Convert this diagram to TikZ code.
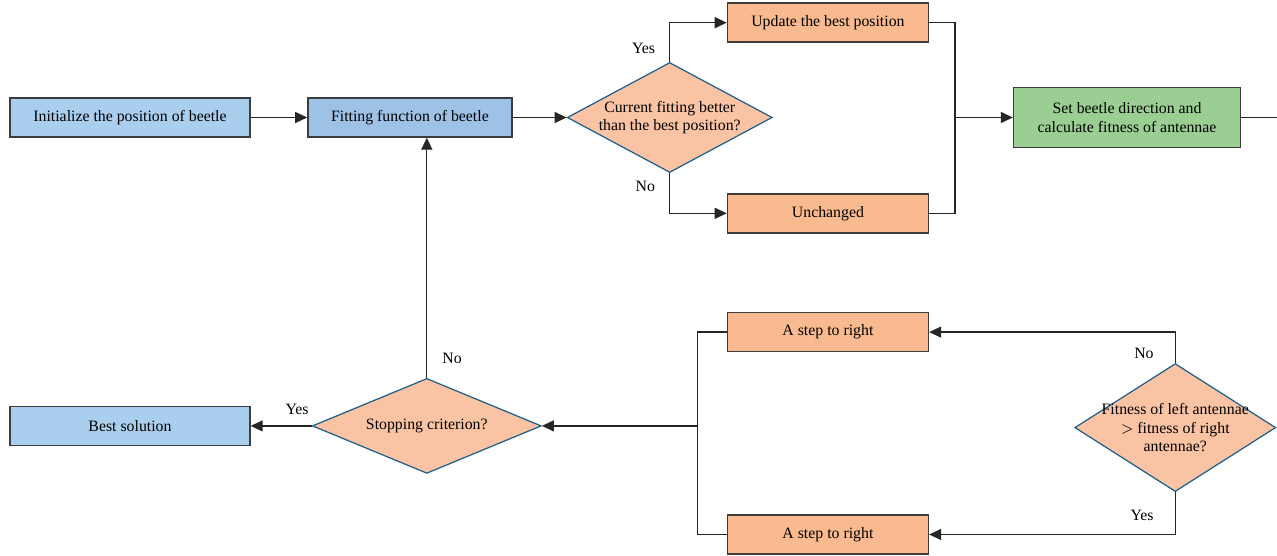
\documentclass[tikz,border=0pt]{standalone}
\usepackage{fontspec}
\setmainfont{Liberation Serif}
\usepackage{xcolor}
\usetikzlibrary{shapes.geometric, arrows.meta, positioning}

\definecolor{initblue}{RGB}{170,206,238}
\definecolor{fitblue}{RGB}{157,194,230}
\definecolor{steporange}{RGB}{248,186,142}
\definecolor{decorange}{RGB}{250,196,164}
\definecolor{setgreen}{RGB}{154,206,146}
\definecolor{decedge}{RGB}{30,95,140}
\definecolor{boxedge}{RGB}{60,60,60}

\begin{document}
\begin{tikzpicture}[
  font=\fontsize{9}{10.5}\selectfont,
  box/.style={rectangle, draw=boxedge, line width=0.8pt,
              minimum height=0.78cm, align=center, inner sep=2pt},
  startbox/.style={box, fill=initblue, minimum width=4.8cm},
  fitbox/.style={box, fill=fitblue, minimum width=4.08cm},
  stepbox/.style={box, fill=steporange, minimum width=4.02cm},
  setbox/.style={box, fill=setgreen, minimum width=4.54cm, minimum height=1.2cm},
  decision/.style={diamond, draw=decedge, line width=0.7pt, fill=decorange,
                   align=center},
  lbl/.style={inner sep=0pt},
  arrow/.style={-{Triangle[length=2.4mm, width=2.2mm]}, line width=0.75pt, draw=black!85},
  line/.style={line width=0.75pt, draw=black!85}
]
\useasboundingbox (0,0) rectangle (25.54,-11.12);

\node[startbox] (init) at (2.6,-2.35) {Initialize the position of beetle};
\node[fitbox, right=1.13cm of init] (fit) {Fitting function of beetle};
\node[decision, right=1.08cm of fit, aspect=2, inner sep=-0.08cm, minimum width=4.1cm, minimum height=2.2cm] (better) {Current fitting better\\than the best position?};
\node[stepbox, above right=0.38cm and 1.14cm of better.north] (update) {Update the best position};
\node[stepbox, below right=0.4cm and 1.14cm of better.south] (same) {Unchanged};
\node[setbox, right=4.8cm of better] (setdir) {Set beetle direction and\\calculate fitness of antennae};
\coordinate[right=0.72cm of setdir.east] (out);

\node[stepbox, below=5.38cm of update] (right1) {A step to right};
\node[stepbox, below=3.24cm of right1] (right2) {A step to right};
\node[decision, right=2.9cm of right1.east, yshift=-1.91cm, aspect=1.6, inner sep=-0.15cm, minimum width=4.02cm, minimum height=2.56cm] (compare) {Fitness of left antennae\\${>}$ fitness of right\\antennae?};

\node[startbox, below=5.36cm of init] (best) {Best solution};
\node[decision, right=1.22cm of best, aspect=2.4, inner sep=0pt, minimum width=4.58cm, minimum height=1.9cm] (stop) {Stopping criterion?};

\coordinate[right=0.52cm of update.east] (merge);
\coordinate[left=0.58cm of right1.west] (join);

\draw[arrow] (init) -- (fit);
\draw[arrow] (fit) -- (better);
\draw[arrow] (better.north) |- node[lbl, pos=0.17, left=0.28cm] {Yes} (update.west);
\draw[arrow] (better.south) |- node[lbl, pos=0.17, left=0.28cm] {No} (same.west);
\draw[line] (update.east) -- (merge) |- (same.east);
\draw[arrow] (merge |- setdir.west) -- (setdir.west);
\draw[line] (setdir.east) -- (out);

\draw[arrow] (compare.north) |- node[lbl, pos=0.16, left=0.42cm] {No} (right1.east);
\draw[arrow] (compare.south) |- node[lbl, pos=0.27, left=0.42cm] {Yes} (right2.east);
\draw[line] (right1.west) -- (join) |- (right2.west);
\draw[arrow] (join |- stop.east) -- (stop.east);

\draw[arrow] (stop.north) -- node[lbl, pos=0.08, right=0.3cm] {No} (stop.north |- fit.south);
\draw[arrow] (stop.west) -- node[lbl, pos=0.24, above=0.22cm] {Yes} (best.east);
\end{tikzpicture}
\end{document}
